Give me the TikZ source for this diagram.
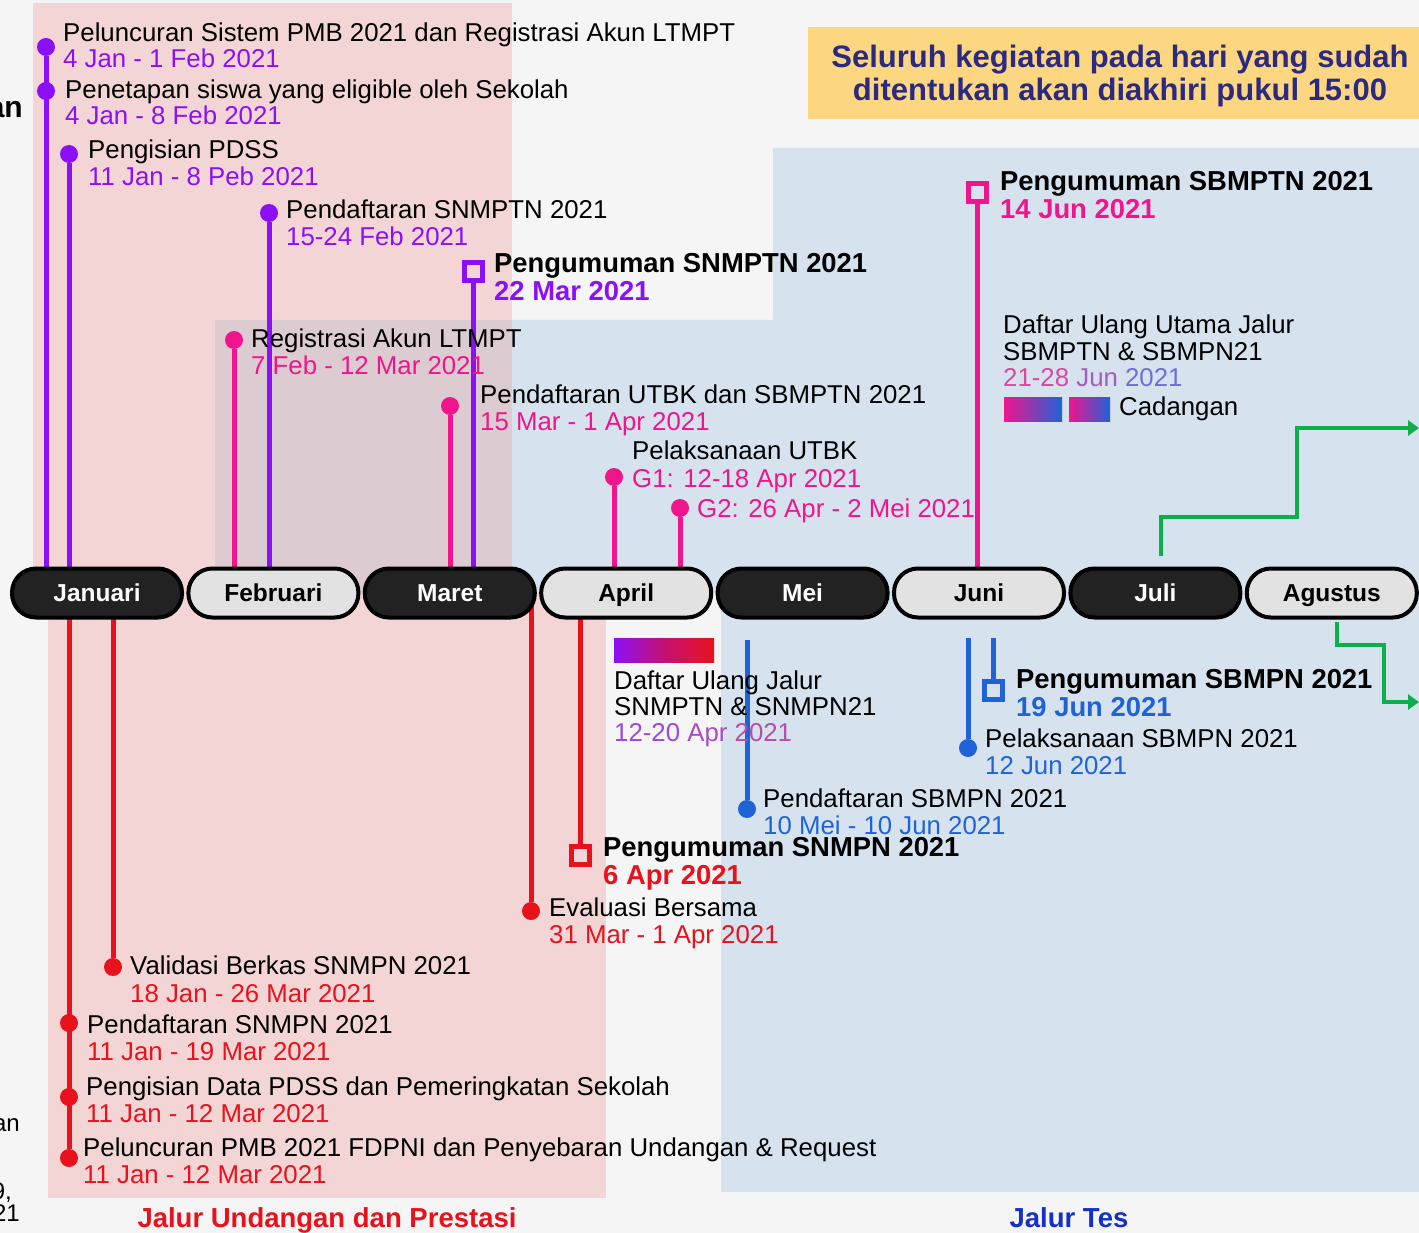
\documentclass[tikz,border=0pt]{standalone}
\usepackage{fontspec}
\setmainfont{Liberation Sans}
\usetikzlibrary{arrows.meta}
\definecolor{bgc}{HTML}{F5F5F5}
\definecolor{pinkbg}{HTML}{F3D5D6}
\definecolor{bluebg}{HTML}{D6E3EE}
\definecolor{overlapbg}{HTML}{DDCBD2}
\definecolor{yel}{HTML}{FCD680}
\definecolor{navy}{HTML}{2C2A80}
\definecolor{pur}{HTML}{8C10F5}
\definecolor{mag}{HTML}{F0158C}
\definecolor{rd}{HTML}{E8121C}
\definecolor{blu}{HTML}{1F63D6}
\definecolor{grn}{HTML}{0BB04A}
\definecolor{darkpill}{HTML}{222222}
\definecolor{lightpill}{HTML}{E2E2E2}
\definecolor{tesblue}{HTML}{1530C8}
\begin{document}
\begin{tikzpicture}[x=1pt,y=-1pt,
  txt/.style={anchor=base west,inner sep=0pt,font=\fontsize{25.8}{30}\selectfont,text=black},
  bld/.style={anchor=base west,inner sep=0pt,font=\fontsize{27.4}{32}\selectfont\bfseries,text=black},
  dotnode/.style={circle,fill=#1,minimum size=18pt,inner sep=0pt},
  sqnode/.style={rectangle,draw=#1,line width=5pt,minimum size=18pt,inner sep=0pt},
  stem/.style={line width=5pt,draw=#1},
  pill/.style={rectangle,rounded corners=24pt,draw=black,line width=4pt,minimum width=170pt,minimum height=49pt,inner sep=0pt,text height=17.5pt,text depth=0pt,font=\fontsize{24.5}{28}\selectfont\bfseries},
  darkp/.style={pill,fill=darkpill,text=white},
  lightp/.style={pill,fill=lightpill,text=black},
  hdr/.style={anchor=base,inner sep=0pt,font=\fontsize{31}{36}\selectfont\bfseries,text=navy},
  gline/.style={line width=4pt,draw=grn,-{Triangle[length=11pt,width=15pt]}}
]
\useasboundingbox (0,0) rectangle (1419,1233);
% backgrounds
\fill[bgc] (0,0) rectangle (1419,1233);
\fill[pinkbg] (33,3) rectangle (512,593);
\fill[pinkbg] (48,593) rectangle (606,1198);
\fill[bluebg] (215,320) -- (773,320) -- (773,148) -- (1419,148) -- (1419,593) -- (215,593) -- cycle;
\fill[bluebg] (721,593) rectangle (1419,1192);
\fill[overlapbg] (215,320) rectangle (512,593);
\fill[yel] (808,27) rectangle (1419,119);

% header text
\node[hdr] (h1) at (1120,68) {Seluruh kegiatan pada hari yang sudah};
\node[hdr] (h2) at (1120,101) {ditentukan akan diakhiri pukul 15:00};

% left cut-off fragments
\node[anchor=base east,inner sep=0pt,font=\fontsize{30}{34}\selectfont\bfseries] (fr1) at (23,118) {an};
\node[anchor=base east,inner sep=0pt,font=\fontsize{24}{28}\selectfont] (fr2) at (20,1131) {an};
\node[anchor=base east,inner sep=0pt,font=\fontsize{24}{28}\selectfont] (fr3) at (12,1199) {9,};
\node[anchor=base east,inner sep=0pt,font=\fontsize{24}{28}\selectfont] (fr4) at (20,1221) {21};

% bar coordinates
\coordinate (pb1) at (46,593);
\coordinate (pb3) at (69,593);
\coordinate (pb4) at (269,593);
\coordinate (pb5) at (473,593);
\coordinate (mb6) at (234,593);
\coordinate (mb7) at (450,593);
\coordinate (mb8) at (614,593);
\coordinate (mb9) at (680,593);
\coordinate (mb10) at (977,593);
\coordinate (rb1) at (69,593);
\coordinate (rb2) at (113,593);
\coordinate (rb3) at (531,593);
\coordinate (rb4) at (580,593);
\coordinate (bb1) at (747,640);
\coordinate (bb2) at (968,638);
\coordinate (bb3) at (993,638);

% markers
\node[dotnode=pur] (pd1) at (46,47) {};
\node[dotnode=pur] (pd2) at (46,91) {};
\node[dotnode=pur] (pd3) at (69,154) {};
\node[dotnode=pur] (pd4) at (269,213) {};
\node[sqnode=pur] (ps5) at (473,272) {};
\node[dotnode=mag] (md6) at (234,340) {};
\node[dotnode=mag] (md7) at (450,406) {};
\node[dotnode=mag] (md8) at (614,477) {};
\node[dotnode=mag] (md9) at (680,508) {};
\node[sqnode=mag] (ms10) at (977,193) {};
\node[dotnode=rd] (rd1) at (69,1023) {};
\node[dotnode=rd] (rd2) at (69,1097) {};
\node[dotnode=rd] (rd3) at (69,1158) {};
\node[dotnode=rd] (rd4) at (113,967) {};
\node[dotnode=rd] (rd5) at (531,911) {};
\node[sqnode=rd] (rs6) at (580,855) {};
\node[dotnode=blu] (bd1) at (747,809) {};
\node[dotnode=blu] (bd2) at (968,748) {};
\node[sqnode=blu] (bs3) at (993,690) {};

% stems
\draw[stem=pur] (pd1) -- (pb1);
\draw[stem=pur] (pd3) -- (pb3);
\draw[stem=pur] (pd4) -- (pb4);
\draw[stem=pur] (ps5) -- (pb5);
\draw[stem=mag] (md6) -- (mb6);
\draw[stem=mag] (md7) -- (mb7);
\draw[stem=mag] (md8) -- (mb8);
\draw[stem=mag] (md9) -- (mb9);
\draw[stem=mag] (ms10) -- (mb10);
\draw[stem=rd] (rb1) -- (rd3);
\draw[stem=rd] (rb2) -- (rd4);
\draw[stem=rd] (rb3) -- (rd5);
\draw[stem=rd] (rb4) -- (rs6);
\draw[stem=blu] (bb1) -- (bd1);
\draw[stem=blu] (bb2) -- (bd2);
\draw[stem=blu] (bb3) -- (bs3);

% green connectors
\coordinate (gj) at (1161,556);
\coordinate (ge1) at (1419,428);
\coordinate (ga) at (1337,622);
\coordinate (ge2) at (1419,702);
\draw[gline] (gj) |- (1297,517) |- (ge1);
\draw[gline] (ga) |- (1384,645) |- (ge2);

% month pills
\node[darkp] (m1) at (97,593) {Januari};
\node[lightp] (m2) at (273.4,593) {Februari};
\node[darkp] (m3) at (449.8,593) {Maret};
\node[lightp] (m4) at (626.2,593) {April};
\node[darkp] (m5) at (802.6,593) {Mei};
\node[lightp] (m6) at (979,593) {Juni};
\node[darkp] (m7) at (1155.4,593) {Juli};
\node[lightp] (m8) at (1331.8,593) {Agustus};

% gradient legend boxes
\shade[left color=pur,right color=rd,middle color=rd!60!pur] (614,638) rectangle (714,662);
\shade[left color=mag,right color=blu] (1004,397) rectangle (1062,421);
\shade[left color=mag,right color=blu] (1069,397) rectangle (1110,421);

% purple texts
\node[txt] (t1) at (63,42) {Peluncuran Sistem PMB 2021 dan Registrasi Akun LTMPT};
\node[txt,text=pur] (t1d) at (63,68) {4 Jan - 1 Feb 2021};
\node[txt] (t2) at (65,99) {Penetapan siswa yang eligible oleh Sekolah};
\node[txt,text=pur] (t2d) at (65,125) {4 Jan - 8 Feb 2021};
\node[txt] (t3) at (88,159) {Pengisian PDSS};
\node[txt,text=pur] (t3d) at (88,186) {11 Jan - 8 Peb 2021};
\node[txt] (t4) at (286,219) {Pendaftaran SNMPTN 2021};
\node[txt,text=pur] (t4d) at (286,246) {15-24 Feb 2021};
\node[bld] (t5) at (494,273) {Pengumuman SNMPTN 2021};
\node[bld,text=pur] (t5d) at (494,301) {22 Mar 2021};

% magenta texts
\node[txt] (t6) at (251,347) {Registrasi Akun LTMPT};
\node[txt,text=mag] (t6d) at (251,374) {7 Feb - 12 Mar 2021};
\node[txt] (t7) at (480,403) {Pendaftaran UTBK dan SBMPTN 2021};
\node[txt,text=mag] (t7d) at (480,430) {15 Mar - 1 Apr 2021};
\node[txt] (t8) at (632,459) {Pelaksanaan UTBK};
\node[txt,text=mag] (t8d) at (632,487) {G1: 12-18 Apr 2021};
\node[txt,text=mag] (t9d) at (697,517) {G2: 26 Apr - 2 Mei 2021};
\node[bld] (t10) at (1000,191) {Pengumuman SBMPTN 2021};
\node[bld,text=mag] (t10d) at (1000,219) {14 Jun 2021};
\node[txt] (t11) at (1003,334) {Daftar Ulang Utama Jalur};
\node[txt] (t11b) at (1003,360) {SBMPTN \& SBMPN21};
\node[txt] (t11d) at (1003,386) {\textcolor[HTML]{DA48A2}{21-28} \textcolor[HTML]{A65CBC}{Jun} \textcolor[HTML]{6E70D6}{2021}};
\node[txt] (t12) at (1119,415) {Cadangan};

% lower texts
\node[txt] (t13) at (614,689) {Daftar Ulang Jalur};
\node[txt] (t13b) at (614,715) {SNMPTN \& SNMPN21};
\node[txt] (t13d) at (614,741) {\textcolor[HTML]{9A48E0}{12-20} \textcolor[HTML]{A84CC4}{Apr} \textcolor[HTML]{B450A8}{2021}};
\node[bld] (t14) at (1016,688) {Pengumuman SBMPN 2021};
\node[bld,text=blu] (t14d) at (1016,716) {19 Jun 2021};
\node[txt] (t15) at (985,747) {Pelaksanaan SBMPN 2021};
\node[txt,text=blu] (t15d) at (985,774) {12 Jun 2021};
\node[txt] (t16) at (763,807) {Pendaftaran SBMPN 2021};
\node[txt,text=blu] (t16d) at (763,834) {10 Mei - 10 Jun 2021};
\node[bld] (t17) at (603,856) {Pengumuman SNMPN 2021};
\node[bld,text=rd] (t17d) at (603,884) {6 Apr 2021};
\node[txt] (t18) at (549,916) {Evaluasi Bersama};
\node[txt,text=rd] (t18d) at (549,943) {31 Mar - 1 Apr 2021};
\node[txt] (t19) at (130,974) {Validasi Berkas SNMPN 2021};
\node[txt,text=rd] (t19d) at (130,1002) {18 Jan - 26 Mar 2021};
\node[txt] (t20) at (87,1033) {Pendaftaran SNMPN 2021};
\node[txt,text=rd] (t20d) at (87,1060) {11 Jan - 19 Mar 2021};
\node[txt] (t21) at (86,1095) {Pengisian Data PDSS dan Pemeringkatan Sekolah};
\node[txt,text=rd] (t21d) at (86,1122) {11 Jan - 12 Mar 2021};
\node[txt] (t22) at (83,1156) {Peluncuran PMB 2021 FDPNI dan Penyebaran Undangan \& Request};
\node[txt,text=rd] (t22d) at (83,1183) {11 Jan - 12 Mar 2021};

% section titles
\node[anchor=base,inner sep=0pt,font=\fontsize{27.5}{32}\selectfont\bfseries,text=rd] (jl1) at (327,1227) {Jalur Undangan dan Prestasi};
\node[anchor=base,inner sep=0pt,font=\fontsize{27.5}{32}\selectfont\bfseries,text=tesblue] (jl2) at (1069,1227) {Jalur Tes};
\end{tikzpicture}
\end{document}
